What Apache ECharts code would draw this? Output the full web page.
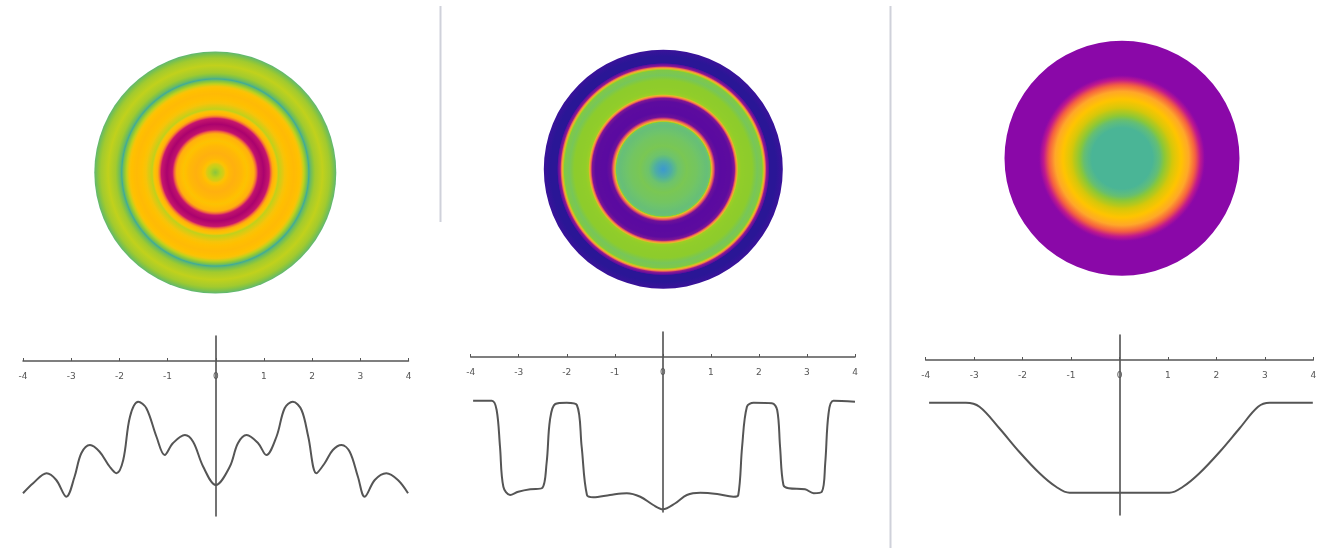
<!DOCTYPE html>
<html><head><meta charset="utf-8">
<script src="https://cdn.jsdelivr.net/npm/echarts@6/dist/echarts.min.js"></script>
<style>html,body{margin:0;padding:0;background:#fff}#c{width:1322px;height:548px}</style>
</head><body><div id="c"></div>
<script>
// ---------- data ----------
const tickLabels = ['-4','-3','-2','-1','0','1','2','3','4'];

const profileA = [
  [-4.00,-5.29],[-3.79,-4.89],[-3.51,-4.49],[-3.31,-4.76],[-3.10,-5.43],[-2.93,-4.63],
  [-2.79,-3.69],[-2.61,-3.36],[-2.41,-3.63],[-2.20,-4.23],[-2.06,-4.49],[-1.92,-3.96],
  [-1.78,-2.23],[-1.61,-1.63],[-1.44,-1.89],[-1.23,-3.03],[-1.06,-3.76],[-0.89,-3.29],
  [-0.64,-2.96],[-0.47,-3.23],[-0.26,-4.23],[0,-4.96],[0.29,-4.23],[0.46,-3.29],
  [0.64,-2.96],[0.88,-3.29],[1.05,-3.76],[1.26,-3.03],[1.43,-1.89],[1.60,-1.63],
  [1.78,-1.96],[1.92,-3.03],[2.09,-4.49],[2.26,-4.09],[2.43,-3.56],[2.61,-3.36],
  [2.78,-3.63],[2.95,-4.63],[3.09,-5.43],[3.30,-4.76],[3.54,-4.49],[3.78,-4.76],[3.99,-5.29]
];

const profileB = [
  [-3.95,-1.75],[-3.56,-1.75],[-3.46,-2.12],[-3.39,-3.59],[-3.32,-5.19],[-3.18,-5.52],
  [-3.01,-5.39],[-2.76,-5.29],[-2.52,-5.25],[-2.42,-4.24],[-2.35,-2.52],[-2.24,-1.88],
  [-2.00,-1.83],[-1.79,-1.92],[-1.69,-3.59],[-1.58,-5.52],[-1.45,-5.61],[-1.10,-5.52],
  [-0.75,-5.45],[-0.47,-5.59],[-0.20,-5.92],[0,-6.09],[0.26,-5.85],[0.50,-5.52],
  [0.78,-5.43],[1.13,-5.48],[1.47,-5.59],[1.57,-5.52],[1.65,-3.59],[1.75,-1.99],
  [1.89,-1.83],[2.27,-1.85],[2.38,-2.12],[2.44,-3.59],[2.51,-5.12],[2.62,-5.25],
  [2.96,-5.29],[3.14,-5.45],[3.31,-5.39],[3.38,-4.25],[3.45,-2.25],[3.55,-1.75],[4.00,-1.79]
];

const profileC = [
  [-3.93,-1.71],[-3.17,-1.71],[-2.89,-1.87],[-2.48,-2.73],[-2.07,-3.67],[-1.65,-4.53],
  [-1.31,-5.07],[-1.03,-5.31],[0,-5.31],[1.03,-5.31],[1.31,-5.07],[1.65,-4.53],
  [2.07,-3.67],[2.48,-2.73],[2.86,-1.87],[3.10,-1.71],[3.99,-1.71]
];

// ---------- styles ----------
const paletteA = [
  [-5.45,'#3aa99e'],[-5.25,'#68ba66'],[-4.95,'#8cc63c'],[-4.5,'#c0d11c'],[-4.0,'#f6c40a'],
  [-3.6,'#ffc000'],[-2.9,'#ffae10'],[-2.4,'#f26a3a'],[-2.0,'#c8186c'],[-1.6,'#a8006e']
];
const paletteB = [
  [-6.1,'#3a98d2'],[-5.7,'#5ab88c'],[-5.5,'#70c468'],[-5.3,'#8ccc2c'],[-5.0,'#a8d020'],
  [-4.3,'#f0b030'],[-3.3,'#f07050'],[-2.5,'#b02880'],[-1.83,'#5a0aa0'],[-1.77,'#2a1696']
];
const paletteC = [
  [-5.31,'#4ab596'],[-5.15,'#5cbc80'],[-4.85,'#8cc836'],[-4.4,'#d4c80a'],[-3.8,'#ffc400'],
  [-3.2,'#ffa828'],[-2.7,'#f56040'],[-2.3,'#c0188e'],[-1.95,'#8a08a8']
];

const panels = [
  {data: profileA, pal: paletteA, disc: [215.3,172.5,121], grid: {left:23, top:336, width:385.5}},
  {data: profileB, pal: paletteB, disc: [663.3,169.2,119.5], grid: {left:470.7, top:332, width:384.3}},
  {data: profileC, pal: paletteC, disc: [1122,158.3,117.5], grid: {left:925.7, top:335, width:387.6}}
];

function hex(h){return [parseInt(h.substr(1,2),16),parseInt(h.substr(3,2),16),parseInt(h.substr(5,2),16)];}
function colorAt(pal,v){
  if (v<=pal[0][0]) return pal[0][1];
  for (let i=1;i<pal.length;i++){
    if (v<=pal[i][0]){
      const t=(v-pal[i-1][0])/(pal[i][0]-pal[i-1][0]);
      const a=hex(pal[i-1][1]), b=hex(pal[i][1]);
      return 'rgb('+a.map((c,k)=>Math.round(c+(b[k]-c)*t)).join(',')+')';
    }
  }
  return pal[pal.length-1][1];
}
function discStops(profile,pal){
  const pts=profile.filter(p=>p[0]>=0).sort((a,b)=>a[0]-b[0]);
  const stops=[];
  for(let i=0;i<pts.length;i++){
    if(i>0){
      const n=8;
      for(let k=1;k<n;k++){
        const t=k/n, x=pts[i-1][0]+(pts[i][0]-pts[i-1][0])*t, v=pts[i-1][1]+(pts[i][1]-pts[i-1][1])*t;
        stops.push({offset:Math.min(1,x/4),color:colorAt(pal,v)});
      }
    }
    stops.push({offset:Math.min(1,pts[i][0]/4),color:colorAt(pal,pts[i][1])});
  }
  return stops;
}

const grids=[],xAxes=[],yAxes=[],series=[];
panels.forEach((p,i)=>{
  grids.push({left:p.grid.left, top:p.grid.top, width:p.grid.width, height:180, containLabel:false, outerBoundsMode:'none'});
  xAxes.push({gridIndex:i,type:'value',min:-4,max:4,interval:1,position:'top',offset:-25,
    axisLine:{onZero:false,lineStyle:{color:'#555',width:1.5}},
    axisTick:{show:true,inside:false,length:3,lineStyle:{color:'#555'}},
    axisLabel:{inside:true,margin:11,fontSize:9,color:'#555',fontFamily:'DejaVu Sans',formatter:v=>tickLabels[Math.round(v)+4]},
    splitLine:{show:false}});
  yAxes.push({gridIndex:i,type:'value',min:-6.2,max:1,
    axisLine:{show:true,onZero:true,lineStyle:{color:'#444',width:1.5}},
    axisTick:{show:false},axisLabel:{show:false},splitLine:{show:false}});
  series.push({type:'line',xAxisIndex:i,yAxisIndex:i,data:p.data,showSymbol:false,smooth:0.35,
    lineStyle:{color:'#555',width:2},silent:true});
  series.push({type:'pie',center:[p.disc[0],p.disc[1]],radius:[0,p.disc[2]],silent:true,
    label:{show:false},labelLine:{show:false},
    itemStyle:{borderWidth:0,color:new echarts.graphic.RadialGradient(0.5,0.5,0.5,discStops(p.data,p.pal))},
    data:[{value:1}]});
});

const chart=echarts.init(document.getElementById('c'),null,{renderer:'canvas'});
chart.setOption({
  animation:false,
  backgroundColor:'#fff',
  grid:grids,xAxis:xAxes,yAxis:yAxes,series:series,
  graphic:[
    {type:'line',shape:{x1:440.5,y1:6,x2:440.5,y2:222},style:{stroke:'#cfd1da',lineWidth:2}},
    {type:'line',shape:{x1:890.5,y1:6,x2:890.5,y2:548},style:{stroke:'#cfd1da',lineWidth:2}}
  ]
});
</script></body></html>
